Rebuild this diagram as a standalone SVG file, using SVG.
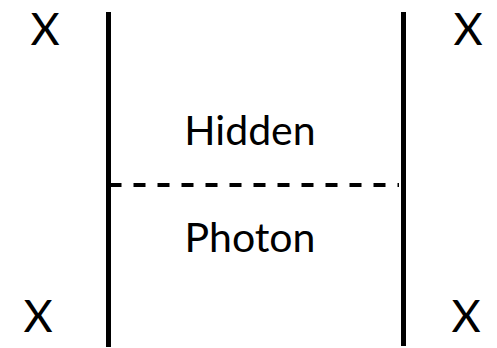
<svg xmlns="http://www.w3.org/2000/svg" width="497" height="348" viewBox="0 0 497 348">
<style>
.t{font-family:Lato,"Open Sans","DejaVu Sans",sans-serif;fill:#000;text-anchor:middle}
.x{font-size:45px}
.lbl{font-size:41px}
.prop{stroke:#000;stroke-width:5;fill:none}
.dash{stroke:#000;stroke-width:4;stroke-dasharray:12 12;fill:none}
</style>
<rect width="497" height="348" fill="#fff"/>
<g id="connectors">
<line class="prop" x1="108.5" y1="12" x2="108.5" y2="347"/>
<line class="prop" x1="403.5" y1="12" x2="403.5" y2="346"/>
<line class="dash" x1="109.5" y1="185" x2="399" y2="185"/>
</g>
<g id="x-top-left"><text class="t x" x="45" y="45">X</text></g>
<g id="x-top-right"><text class="t x" x="468" y="45">X</text></g>
<g id="x-bottom-left"><text class="t x" x="38" y="332">X</text></g>
<g id="x-bottom-right"><text class="t x" x="466" y="332">X</text></g>
<g id="hidden"><text class="t lbl" x="250" y="145">Hidden</text></g>
<g id="photon"><text class="t lbl" x="250" y="252">Photon</text></g>
</svg>
